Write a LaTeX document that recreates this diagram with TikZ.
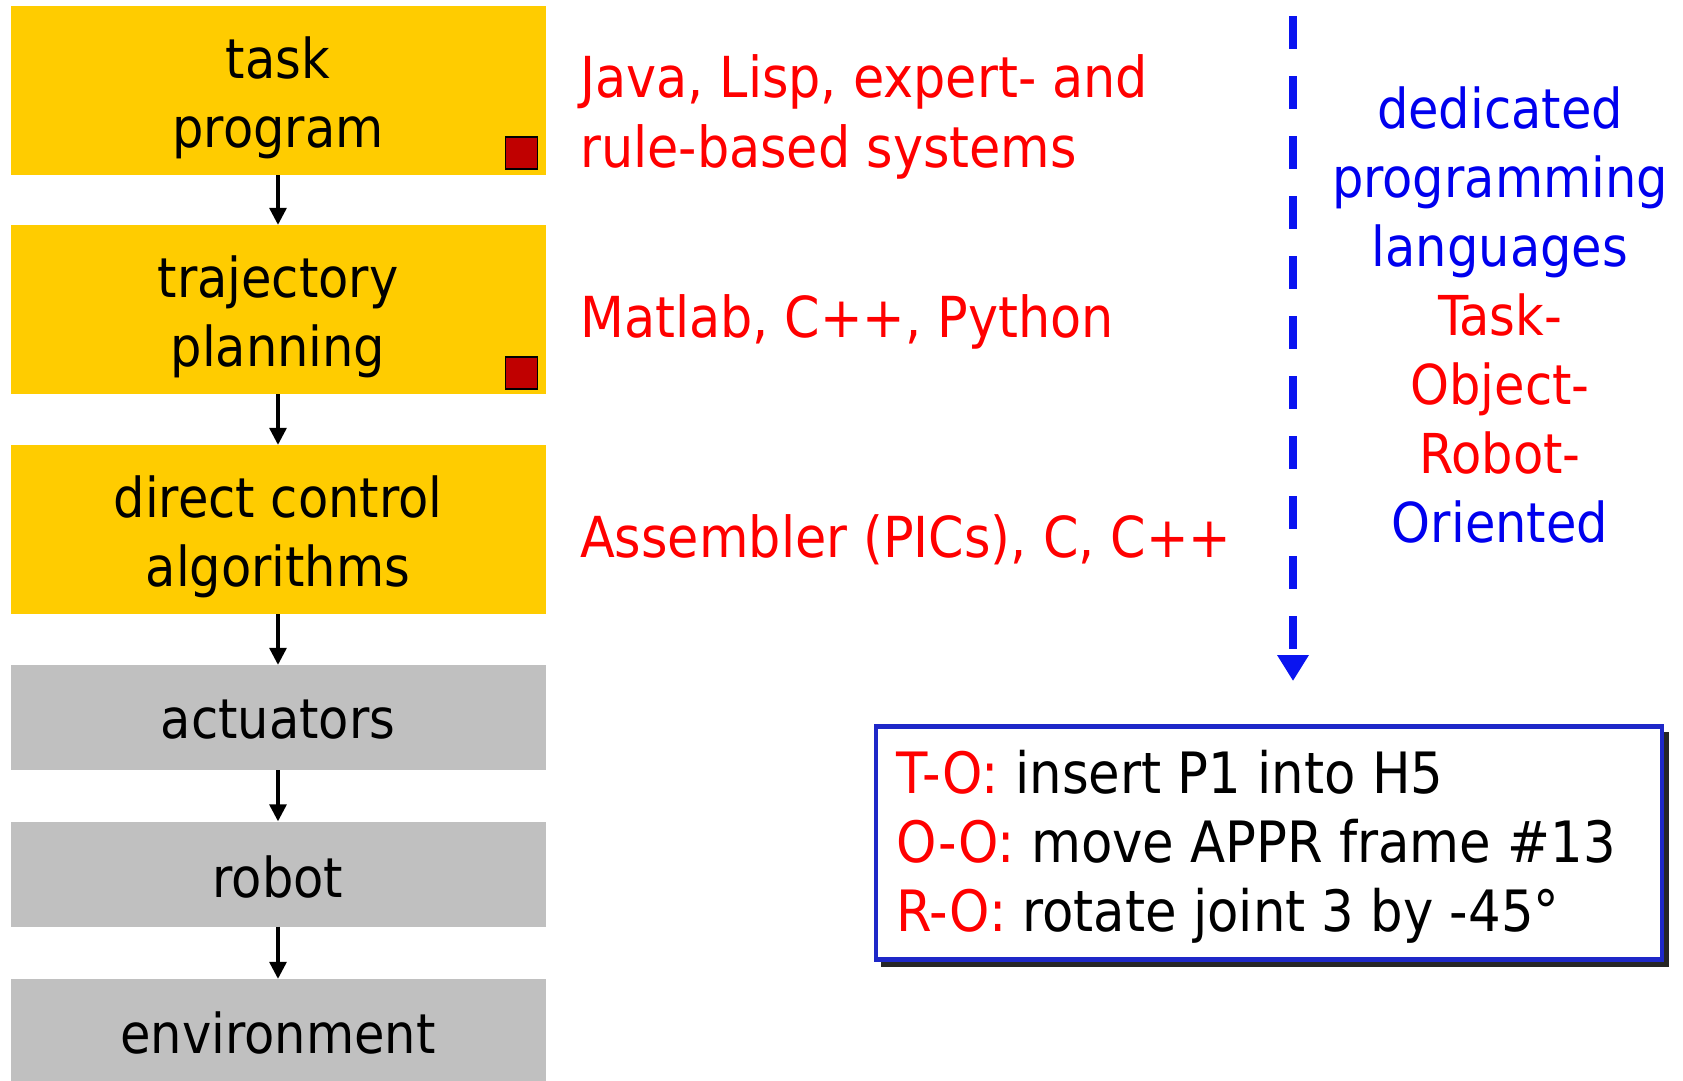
\documentclass[tikz,border=0pt]{standalone}
\usepackage{fontspec}
\setmainfont{DejaVu Sans Condensed}
\usetikzlibrary{arrows.meta}
\definecolor{boxyellow}{HTML}{FFCC00}
\definecolor{boxgray}{HTML}{C0C0C0}
\definecolor{sqred}{HTML}{C00000}
\definecolor{txtred}{HTML}{FF0000}
\definecolor{txtblue}{HTML}{0000EE}
\definecolor{dashblue}{HTML}{0A14F0}
\definecolor{frameblue}{HTML}{1E28C8}
\tikzset{
  bigfont/.style={font=\fontsize{55}{69}\selectfont},
  levelbox/.style={minimum width=535pt, inner sep=0pt},
  yellowbox/.style={levelbox, fill=boxyellow, minimum height=169pt},
  graybox/.style={levelbox, fill=boxgray, minimum height=105pt},
  boxtext/.style={bigfont, align=center, inner sep=0pt, text=black},
  redsq/.style={draw=black, line width=1.5pt, fill=sqred, minimum size=32pt, inner sep=0pt},
  flowarrow/.style={line width=3.2pt, -{Triangle[width=17pt,length=17pt]}},
  redlabel/.style={font=\fontsize{56.5}{70}\selectfont, text=txtred, anchor=west, inner sep=0pt},
}
\begin{document}
\begin{tikzpicture}[x=1pt,y=-1pt]
\useasboundingbox (0,0) rectangle (1683,1080);
% left column boxes
\node[yellowbox] (task) at (278,90.7) {};
\node[yellowbox] (traj) at (278,309.5) {};
\node[yellowbox] (dcon) at (278,529.5) {};
\node[graybox] (act) at (278,717.5) {};
\node[graybox] (rob) at (278,874) {};
\node[graybox] (env) at (278,1031.5) {};
\node[boxtext] (taskt) at ([yshift=-7.5pt]task.center) {task\\program};
\node[boxtext] (trajt) at ([yshift=-7pt]traj.center) {trajectory\\planning};
\node[boxtext] (dcont) at ([yshift=-7.5pt]dcon.center) {direct control\\algorithms};
\node[boxtext] (actt) at ([yshift=-2.5pt]act.center) {actuators};
\node[boxtext] (robt) at ([yshift=-2.5pt]rob.center) {robot};
\node[boxtext] (envt) at ([yshift=-1.5pt]env.center) {environment};
% red squares
\node[redsq] (sq1) at (521.5,153) {};
\node[redsq] (sq2) at (521.5,373) {};
% arrows
\draw[flowarrow] (task.south) -- (traj.north);
\draw[flowarrow] (traj.south) -- (dcon.north);
\draw[flowarrow] (dcon.south) -- (act.north);
\draw[flowarrow] (act.south) -- (rob.north);
\draw[flowarrow] (rob.south) -- (env.north);
% red labels
\node[redlabel, align=left] (l1) at (580,117) {Java, Lisp, expert- and\\rule-based systems};
\node[redlabel] (l2) at (580,322) {Matlab, C++, Python};
\node[redlabel] (l3) at (580,540) {Assembler (PICs), C, C++};
% dashed arrow
\coordinate (dtop) at (1293,16);
\coordinate (dbot) at (1293,681);
\draw[dashblue, line width=8pt, dash pattern=on 33pt off 27pt, -{Triangle[width=30pt,length=26pt]}] (dtop) -- (dbot);
% right column text
\node[bigfont, align=center, inner sep=0pt] (langs) at (1500,315)
  {\textcolor{txtblue}{dedicated}\\\textcolor{txtblue}{programming}\\\textcolor{txtblue}{languages}\\\textcolor{txtred}{Task-}\\\textcolor{txtred}{Object-}\\\textcolor{txtred}{Robot-}\\\textcolor{txtblue}{Oriented}};
% example box
\fill[black!85] (881,731.5) rectangle (1669,966.5);
\node[draw=frameblue, line width=4.5pt, fill=white, minimum width=786pt, minimum height=233pt, inner sep=0pt] (ex) at (1269,843) {};
\node[font=\fontsize{57}{69}\selectfont, align=left, anchor=west, inner sep=0pt] (extext) at (896,847)
  {\textcolor{txtred}{T-O:} insert P1 into H5\\\textcolor{txtred}{O-O:} move APPR frame \#13\\\textcolor{txtred}{R-O:} rotate joint 3 by -45°};
\end{tikzpicture}
\end{document}
